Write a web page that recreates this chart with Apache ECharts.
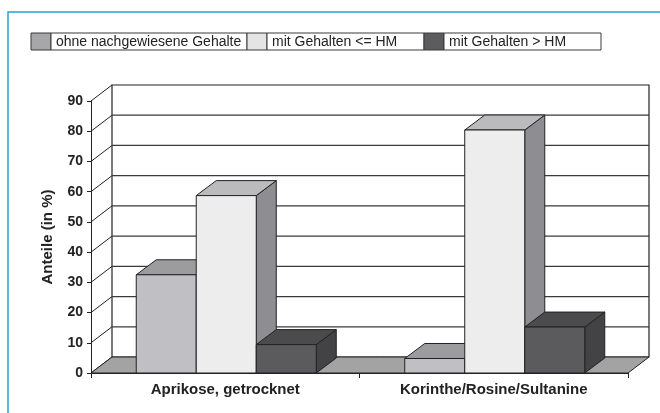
<!DOCTYPE html>
<html>
<head>
<meta charset="utf-8">
<script src="https://cdn.jsdelivr.net/npm/echarts@6/dist/echarts.min.js"></script>
<style>
html, body { margin: 0; padding: 0; background: #fff; }
#chart { width: 660px; height: 413px; }
</style>
</head>
<body>
<div id="chart"></div>
<script>
// Werte (Anteile in %)
const categories = ['Aprikose, getrocknet', 'Korinthe/Rosine/Sultanine'];
const seriesNames = ['ohne nachgewiesene Gehalte', 'mit Gehalten <= HM', 'mit Gehalten > HM'];
const ohneGehalte = [32.5, 4.8];
const unterHM = [58.7, 80.4];
const ueberHM = [9.4, 15.2];
const yTicks = [0, 10, 20, 30, 40, 50, 60, 70, 80, 90];

// 3D look
const DEPTH = [21, -16];
const BAR_DEPTH = [20, -15];
const faceColors = [
    { front: '#c0c0c4', top: '#9c9c9f', side: '#8a8a8d', legend: '#a7a7a9' },
    { front: '#ededed', top: '#bbbbbe', side: '#8e8e92', legend: '#e4e4e4' },
    { front: '#5b5b5d', top: '#4b4b4d', side: '#434345', legend: '#5c5c5e' }
];
const EDGE = '#222';

const chart = echarts.init(document.getElementById('chart'));

function backWall(params, api) {
    const cs = params.coordSys;
    return {
        type: 'rect',
        shape: { x: cs.x + DEPTH[0], y: cs.y + DEPTH[1], width: cs.width, height: cs.height },
        style: { fill: '#fff', stroke: EDGE, lineWidth: 1.2 }
    };
}

function gridLines(params, api) {
    const cs = params.coordSys;
    const v = api.value(1);
    const y = api.coord([0, v])[1];
    const children = [{
        type: 'line',
        shape: { x1: cs.x, y1: y, x2: cs.x + DEPTH[0], y2: y + DEPTH[1] },
        style: { stroke: EDGE, lineWidth: 1 }
    }];
    if (v > 0 && v < 90) {
        children.push({
            type: 'line',
            shape: { x1: cs.x + DEPTH[0], y1: y + DEPTH[1], x2: cs.x + cs.width + DEPTH[0], y2: y + DEPTH[1] },
            style: { stroke: '#3a3a3a', lineWidth: 1.3 }
        });
    }
    return { type: 'group', children: children };
}

function floor(params, api) {
    const cs = params.coordSys;
    const y = api.coord([0, 0])[1];
    const x0 = cs.x, x1 = cs.x + cs.width;
    return {
        type: 'polygon',
        shape: { points: [[x0, y], [x1, y], [x1 + DEPTH[0], y + DEPTH[1]], [x0 + DEPTH[0], y + DEPTH[1]]] },
        style: { fill: '#a3a3a3', stroke: EDGE, lineWidth: 1 }
    };
}

function makeBar(s) {
    return function (params, api) {
        const top = api.coord([api.value(0), api.value(1)]);
        const base = api.coord([api.value(0), 0]);
        const band = api.size([1, 0])[0];
        const w = band * 0.2235;
        const x = top[0] - 1.5 * w + s * w + 1;
        const yt = top[1], yb = base[1];
        const dx = BAR_DEPTH[0], dy = BAR_DEPTH[1];
        const c = faceColors[s];
        return {
            type: 'group',
            children: [
                {
                    type: 'polygon',
                    shape: { points: [[x + w, yt], [x + w + dx, yt + dy], [x + w + dx, yb + dy], [x + w, yb]] },
                    style: { fill: c.side, stroke: EDGE, lineWidth: 1 }
                },
                {
                    type: 'polygon',
                    shape: { points: [[x, yt], [x + w, yt], [x + w + dx, yt + dy], [x + dx, yt + dy]] },
                    style: { fill: c.top, stroke: EDGE, lineWidth: 1 }
                },
                {
                    type: 'rect',
                    shape: { x: x, y: yt, width: w, height: yb - yt },
                    style: { fill: c.front, stroke: EDGE, lineWidth: 1 }
                }
            ]
        };
    };
}

const barValues = [ohneGehalte, unterHM, ueberHM];

const series = [
    { type: 'custom', name: 'wall', renderItem: backWall, data: [[0, 0]], z: 1, silent: true },
    { type: 'custom', name: 'grid', renderItem: gridLines, data: yTicks.map(v => [0, v]), z: 2, silent: true },
    { type: 'custom', name: 'floor', renderItem: floor, data: [[0, 0]], z: 3, silent: true }
];
barValues.forEach((vals, s) => {
    series.push({
        type: 'custom',
        name: seriesNames[s],
        renderItem: makeBar(s),
        data: vals.map((v, i) => [i, v]),
        z: 4 + s
    });
});

// legend as boxed cells
const legendX = 31, legendY = 33, legendH = 17, swatchW = 20;
const cellW = [196, 157, 157];
const legendEls = [];
let lx = legendX;
seriesNames.forEach((name, s) => {
    legendEls.push({
        type: 'rect', shape: { x: lx, y: legendY, width: swatchW, height: legendH },
        style: { fill: faceColors[s].legend, stroke: '#3a3a3a', lineWidth: 1 }
    });
    lx += swatchW;
    legendEls.push({
        type: 'rect', shape: { x: lx, y: legendY, width: cellW[s], height: legendH },
        style: { fill: '#fff', stroke: '#3a3a3a', lineWidth: 1 }
    });
    legendEls.push({
        type: 'text', x: lx + 5, y: legendY + legendH / 2 + 0.5,
        style: { text: name, fill: '#222', font: '14px "Liberation Sans", Arial, sans-serif', verticalAlign: 'middle' }
    });
    lx += cellW[s];
});

const option = {
    animation: false,
    backgroundColor: '#fff',
    grid: { left: 91, right: 32, top: 101, bottom: 40 },
    xAxis: {
        type: 'category',
        data: categories,
        boundaryGap: true,
        axisLine: { show: true, lineStyle: { color: EDGE, width: 1 } },
        axisTick: { show: true, length: 5, lineStyle: { color: EDGE } },
        axisLabel: {
            margin: 9, color: '#222', fontWeight: 'bold', fontSize: 15,
            fontFamily: '"Liberation Sans", Arial, sans-serif'
        },
        z: 10
    },
    yAxis: {
        type: 'value',
        min: 0, max: 90, interval: 10,
        name: 'Anteile (in %)',
        nameLocation: 'middle',
        nameRotate: 90,
        nameGap: 36,
        nameTextStyle: {
            color: '#222', fontWeight: 'bold', fontSize: 15,
            fontFamily: '"Liberation Sans", Arial, sans-serif'
        },
        axisLine: { show: true, lineStyle: { color: EDGE, width: 1 } },
        axisTick: { show: true, length: 4, lineStyle: { color: EDGE } },
        splitLine: { show: false },
        axisLabel: {
            margin: 8, color: '#222', fontWeight: 'bold', fontSize: 14,
            fontFamily: '"Liberation Sans", Arial, sans-serif'
        },
        z: 10
    },
    graphic: [
        {
            type: 'rect', shape: { x: 8, y: 12, width: 700, height: 450 },
            style: { fill: 'none', stroke: '#27a0d8', lineWidth: 1.5 }, silent: true
        },
        { type: 'group', children: legendEls }
    ],
    series: series
};

chart.setOption(option);
</script>
</body>
</html>
